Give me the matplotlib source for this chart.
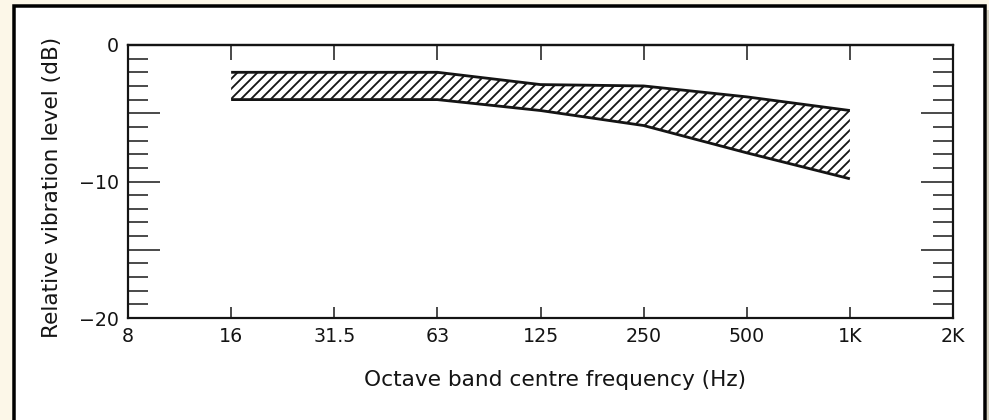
import numpy as np
import matplotlib.pyplot as plt
import matplotlib.patches as mpatches
from matplotlib.ticker import FixedLocator, FixedFormatter, MultipleLocator

## octave band axis
freq_labels = ["8", "16", "31.5", "63", "125", "250", "500", "1K", "2K"]
band_freq = ["16", "31.5", "63", "125", "250", "500", "1K"]

## limits of the shaded range (dB)
upper_db = [-2.0, -2.0, -2.0, -2.9, -3.0, -3.8, -4.8]
lower_db = [-4.0, -4.0, -4.0, -4.8, -5.9, -7.9, -9.8]

y_ticks = [0, -5, -10, -15, -20]
y_labels = ["0", "", "\u221210", "", "\u221220"]

W, H, DPI = 989, 420, 120
INK = "#141414"

def px(v):
    # pixels -> points at the figure dpi
    return v * 72.0 / DPI

plt.rcParams["font.family"] = ["DejaVu Sans"]
plt.rcParams["hatch.linewidth"] = 1.1
plt.rcParams["hatch.color"] = INK

fig = plt.figure(figsize = (W / DPI, H / DPI), dpi = DPI)
fig.patch.set_facecolor("#fcf7e8")

# white panel with black frame, bottom edge runs off the page
frame = mpatches.Rectangle((13.5 / W, -0.1), (984.5 - 13.5) / W, 1.1 - 6.5 / H,
                           transform = fig.transFigure, facecolor = "white",
                           edgecolor = "black", linewidth = px(3.5), zorder = -5)
fig.patches.append(frame)
shade = mpatches.Rectangle((986.5 / W, 0), 3.0 / W, 1 - 10.0 / H,
                           transform = fig.transFigure, facecolor = "#d4d0c0",
                           edgecolor = "none", zorder = -5)
fig.patches.append(shade)

left, right, top, bottom = 128, 953, 45, 318
ax = fig.add_axes([left / W, 1 - bottom / H, (right - left) / W, (bottom - top) / H])
ax.set_facecolor("none")
ax.set_zorder(2)

xpos = np.arange(len(freq_labels))
band_x = np.array([freq_labels.index(f) for f in band_freq])

ax.fill_between(band_x, lower_db, upper_db, facecolor = "white", edgecolor = INK,
                hatch = "////", linewidth = 0, zorder = 2)
ax.plot(band_x, upper_db, color = INK, linewidth = px(2.8), solid_capstyle = "butt", zorder = 3)
ax.plot(band_x, lower_db, color = INK, linewidth = px(2.8), solid_capstyle = "butt", zorder = 3)

ax.set_xlim(0, len(freq_labels) - 1)
ax.set_ylim(-20, 0)

for s in ax.spines.values():
    s.set_linewidth(px(2.2))
    s.set_color(INK)

ax.xaxis.set_major_locator(FixedLocator(xpos))
ax.xaxis.set_major_formatter(FixedFormatter(freq_labels))
ax.tick_params(axis = "x", direction = "in", length = px(11), width = px(1.5),
               color = INK, labelsize = 11.4, labelcolor = INK, pad = px(9))

ax.yaxis.set_major_locator(FixedLocator(y_ticks))
ax.yaxis.set_major_formatter(FixedFormatter(y_labels))
ax.yaxis.set_minor_locator(MultipleLocator(1))
ax.tick_params(axis = "y", which = "both", direction = "in", left = True, right = True,
               width = px(1.5), color = INK, labelsize = 11.4, labelcolor = INK, pad = px(9))
ax.tick_params(axis = "y", which = "major", length = px(32))
ax.tick_params(axis = "y", which = "minor", length = px(20))

# top edge gets slightly longer marks at the band centres
topx = ax.secondary_xaxis("top")
topx.xaxis.set_major_locator(FixedLocator(band_x))
topx.tick_params(direction = "in", length = px(15), width = px(1.5), color = INK,
                 labeltop = False)
topx.spines["top"].set_linewidth(px(2.2))

fig.text(555 / W, 1 - 380 / H, "Octave band centre frequency (Hz)",
         ha = "center", va = "center", fontsize = 13, color = INK)
fig.text(52 / W, 1 - 187 / H, "Relative vibration level (dB)", rotation = 90,
         ha = "center", va = "center", fontsize = 13, color = INK)

fig.savefig("out.png", dpi = DPI, facecolor = fig.get_facecolor())
